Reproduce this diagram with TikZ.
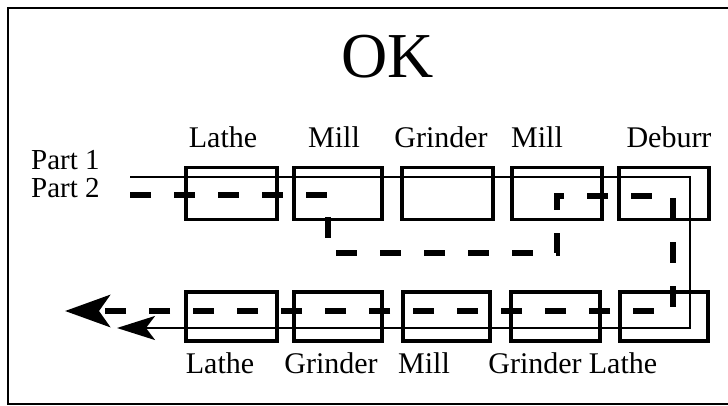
\documentclass[tikz,border=0pt]{standalone}
\usepackage{fontspec}
\setmainfont{Liberation Serif}
\usetikzlibrary{arrows.meta}
\begin{document}
\begin{tikzpicture}[x=1pt,y=-1pt,
  machine/.style={draw,line width=3.2pt,inner sep=0pt,outer sep=0pt},
  lbl/.style={anchor=base,font=\fontsize{30}{30}\selectfont,inner sep=0pt},
  part1/.style={line width=2.4pt},
  part2/.style={line width=6.5pt,dash pattern=on 21pt off 23pt},
  frame/.style={line width=2.8pt}]
\useasboundingbox (0,0) rectangle (728,406);
\draw[frame] (728,8) -- (8,8) -- (8,404) -- (728,404);
\node[anchor=base,font=\fontsize{64}{64}\selectfont,inner sep=0pt] (title) at (388,78) {OK};
% top machines
\foreach \n/\a/\b in {t1/186/277,t2/294/382,t3/402/493,t4/512/602,t5/619/709}{
  \node[machine,minimum width={\b-\a},minimum height=52pt] (\n) at ({(\a+\b)/2},193.5) {};}
% bottom machines
\foreach \n/\a/\b in {b1/186/277,b2/294/382,b3/403/490,b4/511/600,b5/620/708}{
  \node[machine,minimum width={\b-\a},minimum height=49pt] (\n) at ({(\a+\b)/2},316.5) {};}
% top labels
\node[lbl] (lt1) at (223,148) {Lathe};
\node[lbl] (lt2) at (334,148) {Mill};
\node[lbl] (lt3) at (441,148) {Grinder};
\node[lbl] (lt4) at (537,148) {Mill};
\node[lbl] (lt5) at (669,148) {Deburr};
% bottom labels
\node[lbl] (lb1) at (220,373) {Lathe};
\node[lbl] (lb2) at (331,373) {Grinder};
\node[lbl] (lb3) at (424,373) {Mill};
\node[lbl] (lb4) at (535,373) {Grinder};
\node[lbl] (lb5) at (623,373) {Lathe};
% part labels
\node[anchor=base west,font=\fontsize{29}{29}\selectfont,inner sep=0pt] (p1) at (31,170) {Part 1};
\node[anchor=base west,font=\fontsize{29}{29}\selectfont,inner sep=0pt] (p2) at (31,197) {Part 2};
% route coordinates
\coordinate (s0) at (130,177);
\coordinate (s1) at (690,177);
\coordinate (s2) at (690,328);
\coordinate (s3) at (117,328);
\coordinate (d0) at (130,195);
\coordinate (d1) at (328,195);
\coordinate (d2) at (328,253);
\coordinate (d3) at (557,253);
\coordinate (d4) at (557,196);
\coordinate (d5) at (673,196);
\coordinate (d6) at (673,311);
\coordinate (d7) at (65,311);
\draw[part1,-{Stealth[length=38pt,width=24pt,inset=9pt]}] (s0) -- (s1) -- (s2) -- (s3);
\draw[part2,-{Stealth[length=45pt,width=32pt,inset=11pt]}] (d0) -- (d1) -- (d2) -- (d3) -- (d4) -- (d5) -- (d6) -- (d7);
\end{tikzpicture}
\end{document}
